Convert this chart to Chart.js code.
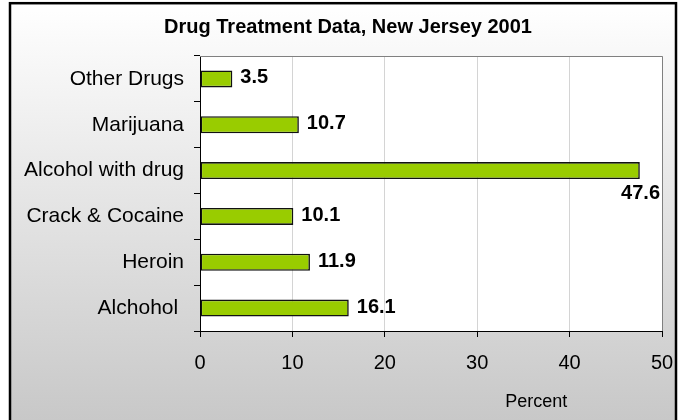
<!DOCTYPE html>
<html lang="en">
<head>
    <meta charset="UTF-8">
    <title>Drug Treatment Data, New Jersey 2001</title>
    <script src="https://cdn.jsdelivr.net/npm/chart.js"></script>
    <style>
        body {
            margin: 0;
            padding: 0;
            background: #fff;
        }
        #drugChart {
            display: block;
        }
    </style>
</head>
<body>
<canvas id="drugChart" width="691" height="420"></canvas>

<script>
    // data
    const categories = ['Other Drugs', 'Marijuana', 'Alcohol with drug', 'Crack & Cocaine', 'Heroin', 'Alchohol '];
    const percentValues = [3.5, 10.7, 47.6, 10.1, 11.9, 16.1];
    const percentTicks = [0, 10, 20, 30, 40, 50];

    const chartTitle = 'Drug Treatment Data, New Jersey 2001';
    const axisTitle = 'Percent';

    Chart.defaults.font.family = "'Liberation Sans', Arial, sans-serif";
    Chart.defaults.color = '#000';

    // background: white page, grey gradient panel, white plot area
    const backgroundPlugin = {
        id: 'panelBackground',
        beforeDraw(chart) {
            const ctx = chart.ctx;
            const area = chart.chartArea;
            ctx.save();
            ctx.fillStyle = '#fff';
            ctx.fillRect(0, 0, chart.width, chart.height);
            const grad = ctx.createLinearGradient(0, 3, 0, chart.height);
            grad.addColorStop(0, '#ffffff');
            grad.addColorStop(1, '#c8c8c8');
            ctx.fillStyle = grad;
            ctx.fillRect(10, 3, 666, chart.height);
            ctx.fillStyle = '#fff';
            ctx.fillRect(area.left, area.top, area.right - area.left, area.bottom - area.top);
            ctx.restore();
        },
        beforeDatasetsDraw(chart) {
            // grey box on top and right of plot area
            const ctx = chart.ctx;
            const area = chart.chartArea;
            ctx.save();
            ctx.strokeStyle = '#808080';
            ctx.lineWidth = 1;
            ctx.beginPath();
            ctx.moveTo(area.left, area.top + 0.5);
            ctx.lineTo(area.right + 0.5, area.top + 0.5);
            ctx.lineTo(area.right + 0.5, area.bottom);
            ctx.stroke();
            ctx.restore();
        },
        afterDraw(chart) {
            const ctx = chart.ctx;
            ctx.save();
            ctx.strokeStyle = '#000';
            ctx.lineWidth = 2.5;
            ctx.strokeRect(10, 3.2, 666, chart.height + 20);
            ctx.restore();
        }
    };

    // title, value labels next to bars, and the offset axis title
    const labelPlugin = {
        id: 'valueLabels',
        afterDatasetsDraw(chart) {
            const ctx = chart.ctx;
            const area = chart.chartArea;
            const meta = chart.getDatasetMeta(0);
            ctx.save();
            ctx.fillStyle = '#000';
            ctx.textBaseline = 'middle';

            ctx.font = "bold 20px 'Liberation Sans', Arial, sans-serif";
            ctx.textAlign = 'center';
            ctx.fillText(chartTitle, 348, 27);

            meta.data.forEach((bar, i) => {
                const text = String(percentValues[i]);
                const w = ctx.measureText(text).width;
                if (bar.x + 8 + w > area.right) {
                    ctx.textAlign = 'right';
                    ctx.fillText(text, area.right - 2, bar.y + 23);
                } else {
                    ctx.textAlign = 'left';
                    ctx.fillText(text, bar.x + 8, bar.y - 1);
                }
            });

            ctx.font = "18px 'Liberation Sans', Arial, sans-serif";
            ctx.textAlign = 'center';
            ctx.fillText(axisTitle, area.left + (area.right - area.left) * 0.728, 402);
            ctx.restore();
        }
    };

    const config = {
        type: 'bar',
        data: {
            labels: categories,
            datasets: [{
                data: percentValues,
                backgroundColor: '#99cc00',
                borderColor: '#111',
                borderWidth: 1.6,
                borderSkipped: false,
                barPercentage: 0.37,
                categoryPercentage: 1
            }]
        },
        options: {
            indexAxis: 'y',
            responsive: false,
            animation: false,
            devicePixelRatio: 1,
            layout: {
                padding: { left: 0, right: 29, top: 56, bottom: 0 }
            },
            plugins: {
                legend: { display: false },
                tooltip: { enabled: false },
                title: { display: false }
            },
            scales: {
                x: {
                    min: percentTicks[0],
                    max: percentTicks[percentTicks.length - 1],
                    afterBuildTicks(scale) {
                        scale.ticks = percentTicks.map(v => ({ value: v }));
                    },
                    afterFit(scale) {
                        scale.height = 89;
                    },
                    grid: {
                        color: '#d4d4d4',
                        tickColor: '#000',
                        tickLength: 6,
                        lineWidth: 1
                    },
                    border: { color: '#000', width: 1 },
                    ticks: {
                        font: { size: 20 },
                        padding: 14,
                        maxRotation: 0
                    }
                },
                y: {
                    afterFit(scale) {
                        scale.width = 200;
                    },
                    grid: {
                        drawOnChartArea: false,
                        tickColor: '#000',
                        tickLength: 6
                    },
                    border: { color: '#000', width: 1 },
                    ticks: {
                        font: { size: 21 },
                        padding: 10
                    }
                }
            }
        },
        plugins: [backgroundPlugin, labelPlugin]
    };

    const ctx = document.getElementById('drugChart').getContext('2d');
    const drugChart = new Chart(ctx, config);
</script>
</body>
</html>
